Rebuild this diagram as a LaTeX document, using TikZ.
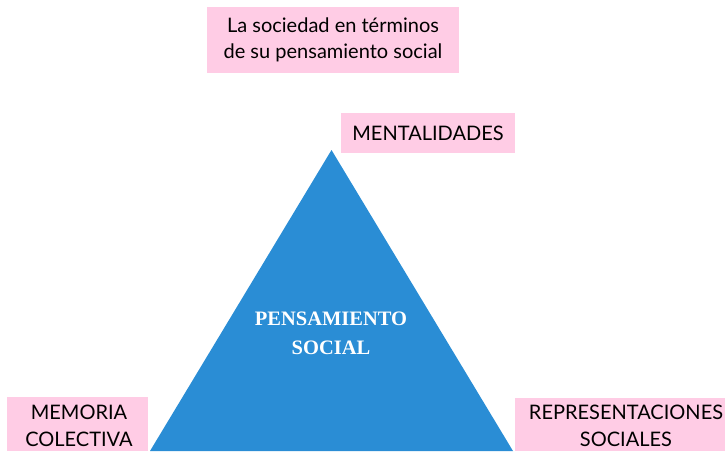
\documentclass[tikz,border=0pt]{standalone}
\usepackage{fontspec}
\setmainfont{Lato}
\newfontfamily\tnr{Liberation Serif}
\definecolor{pinkbox}{HTML}{FFCCE5}
\definecolor{triblue}{HTML}{2A8DD5}
\begin{document}
\begin{tikzpicture}[x=1pt,y=-1pt,
  lbl/.style={inner sep=0pt, align=center, font=\fontsize{20}{26}\selectfont, text=black},
  lblb/.style={lbl, font=\fontsize{20}{27}\selectfont}]
\useasboundingbox (0,0) rectangle (725,451);
% pink boxes
\fill[pinkbox] (207,7) rectangle (459,73);
\fill[pinkbox] (341,113) rectangle (515,153);
\fill[pinkbox] (7,397) rectangle (148,451);
\fill[pinkbox] (515,398) rectangle (725,451);
% triangle
\coordinate (apex) at (331.5,150);
\coordinate (bl) at (150,451);
\coordinate (br) at (513,451);
\fill[triblue] (apex) -- (bl) -- (br) -- cycle;
% texts
\node[lbl] (top) at (333,40) {La sociedad en términos\\de su pensamiento social};
\node[lbl] (ment) at (428,133) {MENTALIDADES};
\node[lblb] (mem) at (79,425.5) {MEMORIA\\COLECTIVA};
\node[lblb] (rep) at (626,426) {REPRESENTACIONES\\SOCIALES};
\node[inner sep=0pt, align=center, text=white, font=\tnr\bfseries\fontsize{20.5}{29}\selectfont] (center) at (331,333) {PENSAMIENTO\\SOCIAL};
\end{tikzpicture}
\end{document}
